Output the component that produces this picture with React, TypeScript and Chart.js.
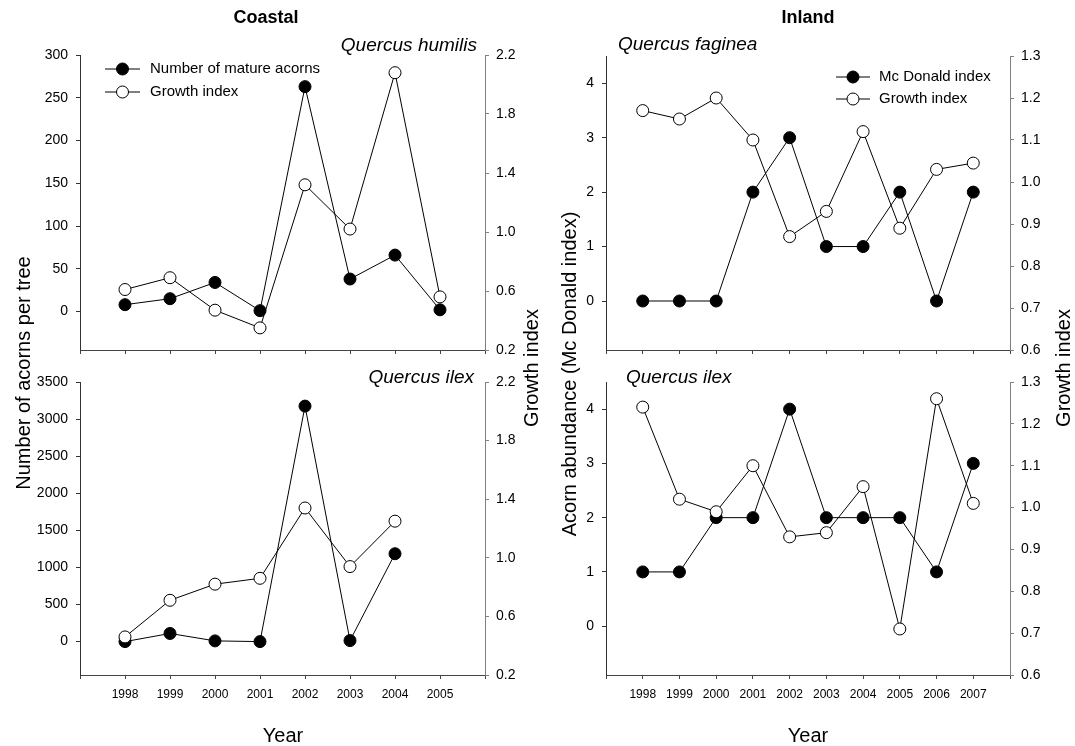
import React, { useEffect, useRef } from 'react';
import { Chart, registerables } from 'chart.js';

Chart.register(...registerables);

// ---------------- data ----------------
const coastalYears = [1998, 1999, 2000, 2001, 2002, 2003, 2004, 2005];
const humilisAcorns = [8, 15, 34, 1, 263, 38, 66, 2];
const humilisGrowth = [0.61, 0.69, 0.47, 0.35, 1.32, 1.02, 2.08, 0.56];

const coastalIlexYears = [1998, 1999, 2000, 2001, 2002, 2003, 2004];
const coastalIlexAcorns = [0, 110, 10, 0, 3175, 14, 1185];
const coastalIlexGrowth = [0.46, 0.71, 0.82, 0.86, 1.34, 0.94, 1.25];

const inlandYears = [1998, 1999, 2000, 2001, 2002, 2003, 2004, 2005, 2006, 2007];
const fagineaMcDonald = [0, 0, 0, 2, 3, 1, 1, 2, 0, 2];
const fagineaGrowth = [1.17, 1.15, 1.2, 1.1, 0.87, 0.93, 1.12, 0.89, 1.03, 1.045];
const inlandIlexMcDonald = [1, 1, 2, 2, 4, 2, 2, 2, 1, 3];
const inlandIlexGrowth = [1.24, 1.02, 0.99, 1.1, 0.93, 0.94, 1.05, 0.71, 1.26, 1.01];

const coastalXTicks = [1997, 1998, 1999, 2000, 2001, 2002, 2003, 2004, 2005, 2006];
const coastalXLabels = [1998, 1999, 2000, 2001, 2002, 2003, 2004, 2005];
const inlandXTicks = [1997, 1998, 1999, 2000, 2001, 2002, 2003, 2004, 2005, 2006, 2007, 2008];
const inlandXLabels = [1998, 1999, 2000, 2001, 2002, 2003, 2004, 2005, 2006, 2007];
const humilisAcornTicks = [0, 50, 100, 150, 200, 250, 300];
const coastalIlexAcornTicks = [0, 500, 1000, 1500, 2000, 2500, 3000, 3500];
const coastalGrowthTicks = [0.2, 0.6, 1.0, 1.4, 1.8, 2.2];
const mcDonaldTicks = [0, 1, 2, 3, 4];
const inlandGrowthTicks = [0.6, 0.7, 0.8, 0.9, 1.0, 1.1, 1.2, 1.3];

// ---------------- layout ----------------
const W = 1075;
const H = 746;
const AX_W = 44;
const XA_H = 32;
const FONT = "'Liberation Sans', Arial, Helvetica, sans-serif";

type Area = { l: number; r: number; t: number; b: number };

type TextItem = {
  kind: 'text';
  text: string;
  x: number;
  y: number;
  size: number;
  weight?: string;
  style?: string;
  align?: CanvasTextAlign;
  rotate?: boolean;
};
type LegendItem = {
  kind: 'legend';
  text: string;
  x1: number;
  x2: number;
  tx: number;
  y: number;
  filled: boolean;
  size: number;
};
type Annot = TextItem | LegendItem;

function annotPlugin(items: Annot[]) {
  return {
    id: 'annot',
    afterDraw(chart: any) {
      const ctx: CanvasRenderingContext2D = chart.ctx;
      ctx.save();
      for (const it of items) {
        if (it.kind === 'text') {
          ctx.save();
          ctx.fillStyle = '#000';
          ctx.font = `${it.style || 'normal'} ${it.weight || 'normal'} ${it.size}px ${FONT}`;
          ctx.textAlign = it.align || 'center';
          ctx.textBaseline = 'middle';
          ctx.translate(it.x, it.y);
          if (it.rotate) ctx.rotate(-Math.PI / 2);
          ctx.fillText(it.text, 0, 0);
          ctx.restore();
        } else {
          ctx.save();
          ctx.strokeStyle = '#000';
          ctx.lineWidth = 1;
          ctx.beginPath();
          ctx.moveTo(it.x1, it.y);
          ctx.lineTo(it.x2, it.y);
          ctx.stroke();
          ctx.beginPath();
          ctx.arc((it.x1 + it.x2) / 2, it.y, 6, 0, Math.PI * 2);
          ctx.fillStyle = it.filled ? '#000' : '#fff';
          ctx.fill();
          ctx.stroke();
          ctx.fillStyle = '#000';
          ctx.font = `${it.size}px ${FONT}`;
          ctx.textAlign = 'left';
          ctx.textBaseline = 'middle';
          ctx.fillText(it.text, it.tx, it.y);
          ctx.restore();
        }
      }
      ctx.restore();
    },
  };
}

type PanelSpec = {
  area: Area;
  years: number[];
  left: number[];
  right: number[];
  leftLabel: string;
  xMin: number;
  xMax: number;
  xTicks: number[];
  xLabels: number[];
  showXLabels: boolean;
  yMin: number;
  yMax: number;
  yTicks: number[];
  y1Min: number;
  y1Max: number;
  y1Ticks: number[];
  annots: Annot[];
};

function makeConfig(p: PanelSpec): any {
  return {
    type: 'line',
    data: {
      datasets: [
        {
          label: 'Growth index',
          data: p.years.map((x, i) => ({ x, y: p.right[i] })),
          yAxisID: 'y1',
          borderColor: '#000',
          borderWidth: 1,
          pointRadius: 6,
          pointBackgroundColor: '#fff',
          pointBorderColor: '#000',
          pointBorderWidth: 1,
          tension: 0,
          fill: false,
          order: 0,
          clip: false,
        },
        {
          label: p.leftLabel,
          data: p.years.map((x, i) => ({ x, y: p.left[i] })),
          yAxisID: 'y',
          borderColor: '#000',
          borderWidth: 1,
          pointRadius: 6,
          pointBackgroundColor: '#000',
          pointBorderColor: '#000',
          pointBorderWidth: 1,
          tension: 0,
          fill: false,
          order: 1,
          clip: false,
        },
      ],
    },
    options: {
      responsive: false,
      maintainAspectRatio: false,
      animation: false,
      events: [],
      layout: {
        padding: {
          left: p.area.l - AX_W,
          right: W - p.area.r - AX_W,
          top: p.area.t,
          bottom: H - p.area.b - XA_H,
        },
      },
      plugins: {
        legend: { display: false },
        tooltip: { enabled: false },
        title: { display: false },
      },
      scales: {
        x: {
          type: 'linear',
          min: p.xMin,
          max: p.xMax,
          afterBuildTicks: (s: any) => {
            s.ticks = p.xTicks.map((v) => ({ value: v }));
          },
          afterFit: (s: any) => {
            s.height = XA_H;
          },
          grid: { drawOnChartArea: false, drawTicks: true, tickLength: 4, tickColor: '#444' },
          border: { display: true, color: '#444', width: 1 },
          ticks: {
            display: p.showXLabels,
            autoSkip: false,
            maxRotation: 0,
            padding: 8,
            color: '#000',
            font: { family: FONT, size: 12 },
            callback: (v: number) => (p.xLabels.includes(v) ? String(v) : ''),
          },
        },
        y: {
          type: 'linear',
          position: 'left',
          min: p.yMin,
          max: p.yMax,
          afterBuildTicks: (s: any) => {
            s.ticks = p.yTicks.map((v) => ({ value: v }));
          },
          afterFit: (s: any) => {
            s.width = AX_W;
          },
          grid: { drawOnChartArea: false, drawTicks: true, tickLength: 4, tickColor: '#333' },
          border: { display: true, color: '#333', width: 1 },
          ticks: {
            autoSkip: false,
            padding: 8,
            color: '#000',
            font: { family: FONT, size: 14 },
            callback: (v: number) => String(v),
          },
        },
        y1: {
          type: 'linear',
          position: 'right',
          min: p.y1Min,
          max: p.y1Max,
          afterBuildTicks: (s: any) => {
            s.ticks = p.y1Ticks.map((v) => ({ value: v }));
          },
          afterFit: (s: any) => {
            s.width = AX_W;
          },
          grid: { drawOnChartArea: false, drawTicks: true, tickLength: 4, tickColor: '#808080' },
          border: { display: true, color: '#808080', width: 1 },
          ticks: {
            autoSkip: false,
            padding: 7,
            color: '#000',
            font: { family: FONT, size: 14 },
            callback: (v: number) => Number(v).toFixed(1),
          },
        },
      },
    },
    plugins: [annotPlugin(p.annots)],
  };
}

const panels: PanelSpec[] = [
  {
    area: { l: 80, r: 485, t: 55, b: 350 },
    years: coastalYears,
    left: humilisAcorns,
    right: humilisGrowth,
    leftLabel: 'Number of mature acorns',
    xMin: 1997,
    xMax: 2006,
    xTicks: coastalXTicks,
    xLabels: coastalXLabels,
    showXLabels: false,
    yMin: -45,
    yMax: 300,
    yTicks: humilisAcornTicks,
    y1Min: 0.2,
    y1Max: 2.2,
    y1Ticks: coastalGrowthTicks,
    annots: [
      { kind: 'text', text: 'Coastal', x: 266, y: 18, size: 18, weight: 'bold' },
      { kind: 'text', text: 'Quercus humilis', x: 477, y: 46, size: 19, style: 'italic', align: 'right' },
      { kind: 'legend', text: 'Number of mature acorns', x1: 105, x2: 140, tx: 150, y: 69, filled: true, size: 15 },
      { kind: 'legend', text: 'Growth index', x1: 105, x2: 140, tx: 150, y: 92, filled: false, size: 15 },
      { kind: 'text', text: 'Number of acorns per tree', x: 24, y: 373, size: 20, rotate: true },
      { kind: 'text', text: 'Growth index', x: 532, y: 368, size: 20, rotate: true },
    ],
  },
  {
    area: { l: 80, r: 485, t: 382, b: 675 },
    years: coastalIlexYears,
    left: coastalIlexAcorns,
    right: coastalIlexGrowth,
    leftLabel: 'Number of mature acorns',
    xMin: 1997,
    xMax: 2006,
    xTicks: coastalXTicks,
    xLabels: coastalXLabels,
    showXLabels: true,
    yMin: -450,
    yMax: 3500,
    yTicks: coastalIlexAcornTicks,
    y1Min: 0.2,
    y1Max: 2.2,
    y1Ticks: coastalGrowthTicks,
    annots: [
      { kind: 'text', text: 'Quercus ilex', x: 474, y: 378, size: 19, style: 'italic', align: 'right' },
      { kind: 'text', text: 'Year', x: 283, y: 736, size: 20 },
    ],
  },
  {
    area: { l: 606, r: 1010, t: 56, b: 350 },
    years: inlandYears,
    left: fagineaMcDonald,
    right: fagineaGrowth,
    leftLabel: 'Mc Donald index',
    xMin: 1997,
    xMax: 2008,
    xTicks: inlandXTicks,
    xLabels: inlandXLabels,
    showXLabels: false,
    yMin: -0.9,
    yMax: 4.5,
    yTicks: mcDonaldTicks,
    y1Min: 0.6,
    y1Max: 1.3,
    y1Ticks: inlandGrowthTicks,
    annots: [
      { kind: 'text', text: 'Inland', x: 808, y: 18, size: 18, weight: 'bold' },
      { kind: 'text', text: 'Quercus faginea', x: 618, y: 45, size: 19, style: 'italic', align: 'left' },
      { kind: 'legend', text: 'Mc Donald index', x1: 836, x2: 870, tx: 879, y: 77, filled: true, size: 15 },
      { kind: 'legend', text: 'Growth index', x1: 836, x2: 870, tx: 879, y: 99, filled: false, size: 15 },
      { kind: 'text', text: 'Acorn abundance (Mc Donald index)', x: 570, y: 374, size: 20, rotate: true },
      { kind: 'text', text: 'Growth index', x: 1064, y: 368, size: 20, rotate: true },
    ],
  },
  {
    area: { l: 606, r: 1010, t: 382, b: 675 },
    years: inlandYears,
    left: inlandIlexMcDonald,
    right: inlandIlexGrowth,
    leftLabel: 'Mc Donald index',
    xMin: 1997,
    xMax: 2008,
    xTicks: inlandXTicks,
    xLabels: inlandXLabels,
    showXLabels: true,
    yMin: -0.9,
    yMax: 4.5,
    yTicks: mcDonaldTicks,
    y1Min: 0.6,
    y1Max: 1.3,
    y1Ticks: inlandGrowthTicks,
    annots: [
      { kind: 'text', text: 'Quercus ilex', x: 626, y: 378, size: 19, style: 'italic', align: 'left' },
      { kind: 'text', text: 'Year', x: 808, y: 736, size: 20 },
    ],
  },
];

function Panel({ spec }: { spec: PanelSpec }) {
  const ref = useRef<HTMLCanvasElement | null>(null);
  useEffect(() => {
    if (!ref.current) return;
    const chart = new Chart(ref.current, makeConfig(spec));
    return () => chart.destroy();
  }, [spec]);
  return (
    <canvas
      ref={ref}
      width={W}
      height={H}
      style={{ position: 'absolute', left: 0, top: 0, width: W, height: H }}
    />
  );
}

export default function App() {
  return (
    <div
      style={{
        position: 'fixed',
        left: 0,
        top: 0,
        width: W,
        height: H,
        background: '#fff',
        overflow: 'hidden',
      }}
    >
      {panels.map((p, i) => (
        <Panel key={i} spec={p} />
      ))}
    </div>
  );
}
